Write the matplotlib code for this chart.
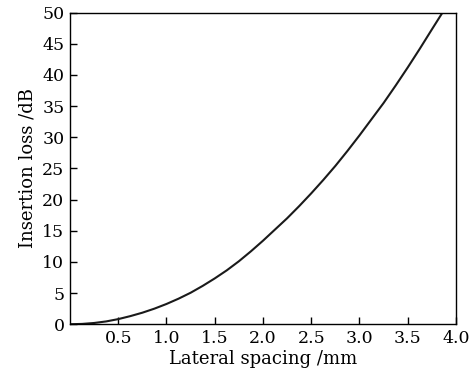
import matplotlib
matplotlib.use("Agg")
import matplotlib.pyplot as plt

# Insertion loss vs lateral spacing
spacing_mm = [0.0, 0.125, 0.25, 0.375, 0.5, 0.625, 0.75, 0.875, 1.0, 1.125,
              1.25, 1.375, 1.5, 1.625, 1.75, 1.875, 2.0, 2.125, 2.25, 2.375,
              2.5, 2.625, 2.75, 2.875, 3.0, 3.125, 3.25, 3.375, 3.5, 3.625,
              3.75, 3.86]
loss_db = [0.0, 0.05, 0.2, 0.45, 0.82, 1.3, 1.85, 2.5, 3.25, 4.1,
           5.05, 6.15, 7.35, 8.65, 10.1, 11.7, 13.4, 15.2, 17.0, 18.95,
           21.0, 23.15, 25.4, 27.8, 30.3, 32.9, 35.5, 38.3, 41.2, 44.2,
           47.3, 50.0]

x_ticks = [0.5, 1.0, 1.5, 2.0, 2.5, 3.0, 3.5, 4.0]
y_ticks = [0, 5, 10, 15, 20, 25, 30, 35, 40, 45, 50]

plt.rcParams['font.family'] = ['DejaVu Serif']

fig = plt.figure(figsize=(4.76, 3.81), dpi=100)
ax = fig.add_axes([0.147, 0.149, 0.811, 0.818])

ax.plot(spacing_mm, loss_db, color='#1a1a1a', linewidth=1.5,
        solid_joinstyle='round')

ax.set_xlim(0, 4.0)
ax.set_ylim(0, 50)
ax.set_xticks(x_ticks)
ax.set_xticklabels([f"{v:.1f}" for v in x_ticks])
ax.set_yticks(y_ticks)
ax.tick_params(direction='in', length=5, width=1, labelsize=12.5,
               top=False, right=False, pad=4)
for s in ax.spines.values():
    s.set_linewidth(1)

ax.set_xlabel('Lateral spacing /mm', fontsize=13, labelpad=2)
ax.set_ylabel('Insertion loss /dB', fontsize=13, labelpad=4)

fig.savefig('out.png', dpi=100)
